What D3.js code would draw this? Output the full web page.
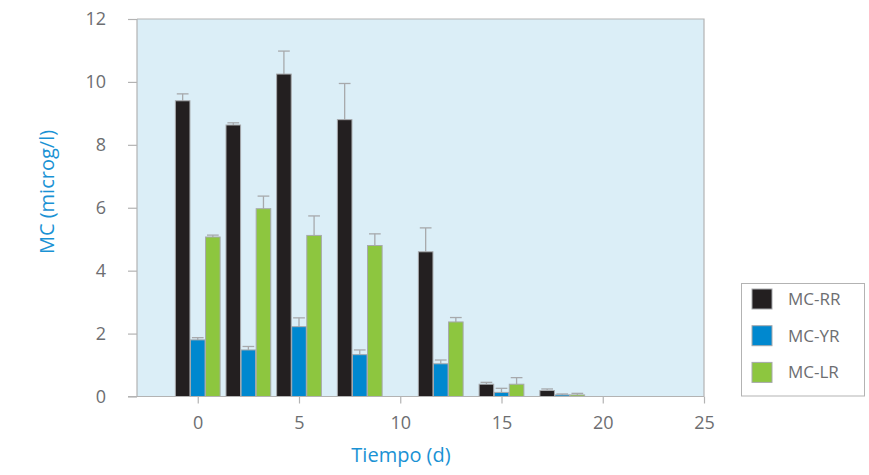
<!DOCTYPE html>
<html>
<head>
<meta charset="utf-8">
<script src="https://cdn.jsdelivr.net/npm/d3@7/dist/d3.min.js"></script>
<style>
  html, body { margin: 0; padding: 0; background: #fff; }
  svg { display: block; font-family: "Open Sans", "Noto Sans", sans-serif; }
</style>
</head>
<body>
<svg id="chart" width="869" height="475"></svg>
<script>
// ---- data ----
const times = [0, 2.5, 5, 8, 12, 15, 18];
const seriesNames = ["MC-RR", "MC-YR", "MC-LR"];
const mcRR    = [9.40, 8.63, 10.25, 8.80, 4.60, 0.39, 0.19];
const mcRRErr = [0.22, 0.07, 0.73, 1.15, 0.76, 0.06, 0.05];
const mcYR    = [1.80, 1.48, 2.22, 1.33, 1.04, 0.13, 0.05];
const mcYRErr = [0.07, 0.11, 0.28, 0.15, 0.12, 0.13, 0.03];
const mcLR    = [5.07, 5.97, 5.12, 4.80, 2.37, 0.39, 0.05];
const mcLRErr = [0.06, 0.40, 0.62, 0.37, 0.14, 0.21, 0.05];
const xTicks = [0, 5, 10, 15, 20, 25];
const yTicks = [0, 2, 4, 6, 8, 10, 12];
const colors = ["#231f20", "#0088cf", "#8dc63f"];

(function () {
const values = [mcRR, mcYR, mcLR];
const errs = [mcRRErr, mcYRErr, mcLRErr];

// ---- layout ----
const svg = d3.select("#chart");
const pL = 137, pR = 704, pT = 19, pB = 396.5;

const x = d3.scaleLinear().domain([-3, 25]).range([pL, pR]);
const y = d3.scaleLinear().domain([0, 12]).range([pB, pT]);

const barW = 0.72;   // bar width in days
const step = 0.745;  // offset between bars of a group in days

// plot background
svg.append("rect")
  .attr("x", pL).attr("y", pT)
  .attr("width", pR - pL).attr("height", pB - pT)
  .attr("fill", "#dbeef7");

// top and right border
svg.append("path")
  .attr("d", `M${pL},${pT}H${pR}V${pB}`)
  .attr("fill", "none").attr("stroke", "#b3b3b3").attr("stroke-width", 1.2);

// bars
const data = [];
times.forEach((t, i) => {
  seriesNames.forEach((s, k) => {
    data.push({ t, k, v: values[k][i], e: errs[k][i] });
  });
});

const g = svg.append("g");
// error bars (upward only)
g.selectAll(".err").data(data).enter().append("g").each(function(d) {
  const cx = x(d.t + (d.k - 1) * step);
  const hw = x(0.29) - x(0);
  const sel = d3.select(this);
  sel.append("line")
    .attr("x1", cx).attr("x2", cx)
    .attr("y1", y(d.v)).attr("y2", y(d.v + d.e))
    .attr("stroke", "#a7a9ac").attr("stroke-width", 1.3);
  sel.append("line")
    .attr("x1", cx - hw).attr("x2", cx + hw)
    .attr("y1", y(d.v + d.e)).attr("y2", y(d.v + d.e))
    .attr("stroke", "#a7a9ac").attr("stroke-width", 1.3);
});

g.selectAll(".bar").data(data).enter().append("rect")
  .attr("x", d => x(d.t + (d.k - 1) * step - barW / 2))
  .attr("width", d => x(barW) - x(0))
  .attr("y", d => y(d.v))
  .attr("height", d => y(0) - y(d.v))
  .attr("fill", d => colors[d.k])
  .attr("stroke", "#a7a9ac").attr("stroke-width", 1);

// axes
const axisColor = "#b3b3b3";
const labelColor = "#6d6e71";

const yAxis = svg.append("g")
  .attr("transform", `translate(${pL},0)`)
  .call(d3.axisLeft(y).tickValues(yTicks).tickSize(9).tickPadding(22).tickFormat(d3.format("d")));
const xAxis = svg.append("g")
  .attr("transform", `translate(0,${pB})`)
  .call(d3.axisBottom(x).tickValues(xTicks).tickSize(7).tickPadding(13).tickFormat(d3.format("d")));

[yAxis, xAxis].forEach(a => {
  a.select(".domain").remove();
  a.selectAll(".tick line").attr("stroke", axisColor).attr("stroke-width", 1.2);
  a.selectAll(".tick text").attr("fill", labelColor).attr("font-size", 18)
    .attr("font-family", "'Open Sans', 'Noto Sans', sans-serif");
});
// axis lines
svg.append("line").attr("x1", pL).attr("x2", pL).attr("y1", pT).attr("y2", pB)
  .attr("stroke", axisColor).attr("stroke-width", 1.2);
svg.append("line").attr("x1", pL - 9).attr("x2", pR).attr("y1", pB).attr("y2", pB)
  .attr("stroke", axisColor).attr("stroke-width", 1.2);

// axis titles
svg.append("text")
  .attr("x", 401).attr("y", 462)
  .attr("text-anchor", "middle")
  .attr("fill", "#1a92d4").attr("font-size", 20)
  .text("Tiempo (d)");
svg.append("text")
  .attr("transform", "translate(54,192) rotate(-90)")
  .attr("text-anchor", "middle")
  .attr("fill", "#1a92d4").attr("font-size", 20)
  .text("MC (microg/l)");

// legend
const lg = svg.append("g");
lg.append("rect")
  .attr("x", 741.5).attr("y", 283.5).attr("width", 123).attr("height", 112.5)
  .attr("fill", "#fff").attr("stroke", "#b3b3b3").attr("stroke-width", 1);
seriesNames.forEach((s, k) => {
  const yy = 289 + k * 36.7;
  lg.append("rect")
    .attr("x", 752).attr("y", yy).attr("width", 20).attr("height", 20)
    .attr("fill", colors[k]).attr("stroke", "#a7a9ac").attr("stroke-width", 1);
  lg.append("text")
    .attr("x", 788).attr("y", yy + 10).attr("dy", "0.35em")
    .attr("fill", labelColor).attr("font-size", 17)
    .text(s);
});
})();
</script>
</body>
</html>
